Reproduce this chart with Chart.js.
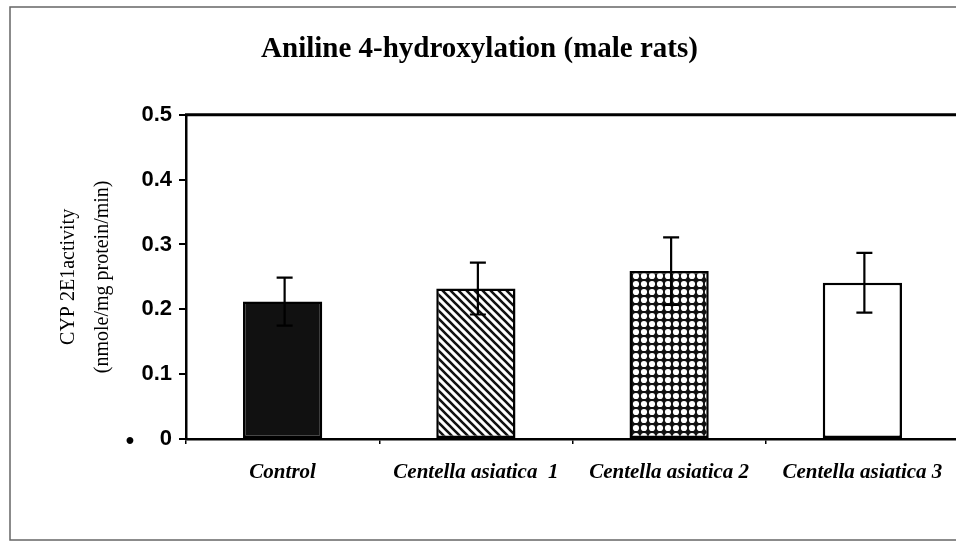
<!DOCTYPE html>
<html>
<head>
<meta charset="utf-8">
<script src="https://cdn.jsdelivr.net/npm/chart.js@4.4.1/dist/chart.umd.min.js"></script>
<style>
  html, body { margin: 0; padding: 0; background: #fff; overflow: hidden; }
  #wrap { width: 962px; height: 543px; }
</style>
</head>
<body>
<div id="wrap"><canvas id="chart" width="962" height="543"></canvas></div>
<script>
/* ======================= DATA ======================= */
const categories = ['Control', 'Centella asiatica  1', 'Centella asiatica 2', 'Centella asiatica 3'];
const meanValues = [0.212, 0.232, 0.259, 0.241];
const errValues = [0.037, 0.040, 0.052, 0.046];
const yTicks = [0, 0.1, 0.2, 0.3, 0.4, 0.5];

/* ===================== PATTERNS ===================== */
function hatchPattern() {
  const c = document.createElement('canvas');
  c.width = 8; c.height = 8;
  const g = c.getContext('2d');
  g.fillStyle = '#fff';
  g.fillRect(0, 0, 8, 8);
  g.strokeStyle = '#111';
  g.lineWidth = 2.6;
  g.beginPath();
  g.moveTo(-2, -2); g.lineTo(10, 10);
  g.moveTo(-2, 6); g.lineTo(2, 10);
  g.moveTo(6, -2); g.lineTo(10, 2);
  g.stroke();
  return g.createPattern(c, 'repeat');
}

function dotPattern() {
  const c = document.createElement('canvas');
  c.width = 8; c.height = 8;
  const g = c.getContext('2d');
  g.fillStyle = '#111';
  g.fillRect(0, 0, 8, 8);
  g.fillStyle = '#fff';
  g.beginPath();
  g.arc(4, 4, 3.1, 0, Math.PI * 2);
  g.fill();
  return g.createPattern(c, 'repeat');
}

const fills = ['#111', hatchPattern(), dotPattern(), '#fff'];

/* ===================== PLUGINS ====================== */
const frame = {
  id: 'frame',
  beforeDraw(chart) {
    const ctx = chart.ctx;
    ctx.save();
    ctx.fillStyle = '#fff';
    ctx.fillRect(0, 0, chart.width, chart.height);
    ctx.strokeStyle = '#666';
    ctx.lineWidth = 1.5;
    ctx.strokeRect(10, 7, chart.width, 533);
    ctx.restore();
  },
  afterDraw(chart) {
    const ctx = chart.ctx;
    const a = chart.chartArea;
    ctx.save();
    // top frame line of the plot area
    ctx.strokeStyle = '#000';
    ctx.lineWidth = 3;
    ctx.beginPath();
    ctx.moveTo(a.left - 1, a.top);
    ctx.lineTo(chart.width, a.top);
    ctx.stroke();
    // stray dot next to the zero label
    ctx.fillStyle = '#000';
    ctx.font = 'bold 24px "Liberation Sans", Arial, sans-serif';
    ctx.textAlign = 'center';
    ctx.textBaseline = 'middle';
    ctx.fillText('•', 130, chart.scales.y.getPixelForValue(0) + 2);
    ctx.restore();
  }
};

const errorBars = {
  id: 'errorBars',
  afterDatasetsDraw(chart) {
    const ctx = chart.ctx;
    const y = chart.scales.y;
    const meta = chart.getDatasetMeta(0);
    ctx.save();
    ctx.strokeStyle = '#000';
    ctx.lineWidth = 2.2;
    meta.data.forEach((bar, i) => {
      const hi = y.getPixelForValue(meanValues[i] + errValues[i]);
      const lo = y.getPixelForValue(meanValues[i] - errValues[i]);
      const x = bar.x + 2;
      ctx.beginPath();
      ctx.moveTo(x, hi); ctx.lineTo(x, lo);
      ctx.moveTo(x - 8, hi); ctx.lineTo(x + 8, hi);
      ctx.moveTo(x - 8, lo); ctx.lineTo(x + 8, lo);
      ctx.stroke();
    });
    ctx.restore();
  }
};

/* ====================== CHART ======================= */
new Chart(document.getElementById('chart'), {
  type: 'bar',
  data: {
    labels: categories,
    datasets: [{
      data: meanValues,
      backgroundColor: fills,
      borderColor: '#000',
      borderWidth: 2.5,
      borderSkipped: false,
      barPercentage: 0.41,
      categoryPercentage: 1
    }]
  },
  options: {
    responsive: false,
    animation: false,
    layout: { padding: { left: 0, right: 3, top: 0, bottom: 0 } },
    plugins: {
      legend: { display: false },
      tooltip: { enabled: false },
      title: {
        display: true,
        text: 'Aniline 4-hydroxylation (male rats)',
        color: '#000',
        font: { family: '"Liberation Serif", "Times New Roman", serif', size: 29, weight: 'bold' },
        padding: { top: 32, bottom: 48 }
      }
    },
    scales: {
      x: {
        grid: { display: true, offset: true, drawOnChartArea: false, tickLength: 5, color: '#000', lineWidth: 1.5 },
        border: { color: '#000', width: 2.5 },
        ticks: {
          color: '#000',
          padding: 16,
          maxRotation: 0,
          font: { family: '"Liberation Serif", "Times New Roman", serif', size: 21, weight: 'bold', style: 'italic' }
        },
        afterFit(scale) { scale.height = 104; }
      },
      y: {
        min: 0,
        max: 0.5,
        afterBuildTicks(scale) { scale.ticks = yTicks.map(v => ({ value: v })); },
        grid: { drawOnChartArea: false, tickLength: 7, color: '#000', lineWidth: 2 },
        border: { color: '#000', width: 2.5 },
        ticks: {
          color: '#000',
          padding: 7,
          callback: v => String(v),
          font: { family: '"Liberation Sans", Arial, sans-serif', size: 22, weight: 'bold' }
        },
        title: {
          display: true,
          text: ['CYP 2E1activity', '(nmole/mg protein/min)'],
          color: '#000',
          font: { family: '"Liberation Serif", "Times New Roman", serif', size: 20, lineHeight: 1.7 },
          padding: { top: 52, bottom: 0 }
        },
        afterFit(scale) { scale.width = 186; }
      }
    }
  },
  plugins: [frame, errorBars]
});
</script>
</body>
</html>
